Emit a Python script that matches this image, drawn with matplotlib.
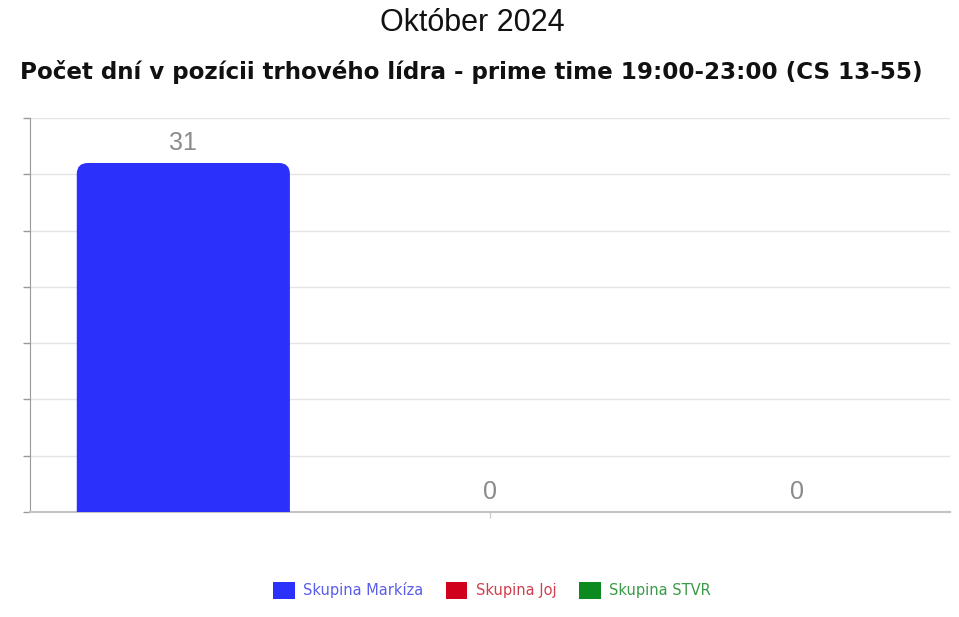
import numpy as np
import matplotlib.pyplot as plt
from matplotlib.patches import FancyBboxPatch, Patch

title = "Október 2024"
subtitle = "Počet dní v pozícii trhového lídra - prime time 19:00-23:00 (CS 13-55)"
series = ["Skupina Markíza", "Skupina Joj", "Skupina STVR"]
values = [31, 0, 0]
colors = ["#2b30fb", "#d0021b", "#0a8a1f"]
text_colors = ["#5a5ee8", "#d0404f", "#3a9a48"]
y_ticks = [0, 5, 10, 15, 20, 25, 30, 35]

sans = ["Liberation Sans", "DejaVu Sans"]

fig = plt.figure(figsize=(9.59, 6.17), dpi=100)
ax = fig.add_axes([0.0313, 0.1702, 0.9593, 0.6386])

xs = np.arange(len(series)) - 1
width = 0.695
ax.set_xlim(-1.5, 1.5)
ax.set_ylim(0, 35)

# pixel scales for round corners
ppx = ax.bbox.width / 3.0
ppy = ax.bbox.height / 35.0
r_px = 11
for x, v, c in zip(xs, values, colors):
    if v > 0:
        p = FancyBboxPatch((x - width / 2, -2), width, v + 2,
                           boxstyle="round,pad=0,rounding_size=%f" % (r_px / ppx),
                           mutation_aspect=ppx / ppy,
                           fc=c, ec="none", zorder=3, clip_on=True)
        ax.add_patch(p)
    ax.text(x, v + 0.7, str(v), ha="center", va="bottom", color="#8a8a8a",
            fontsize=18, family=sans, zorder=4)

ax.set_yticks(y_ticks)
ax.set_yticklabels([])
ax.set_xticks([0])
ax.set_xticklabels([])
ax.grid(axis="y", color="#e4e4e4", lw=1, zorder=0)
ax.tick_params(axis="y", length=5, color="#999999", width=1)
ax.tick_params(axis="x", length=4, color="#cccccc", width=1)
for s in ["top", "right"]:
    ax.spines[s].set_visible(False)
ax.spines["left"].set_color("#999999")
ax.spines["bottom"].set_color("#c4c4c4")
ax.spines["bottom"].set_linewidth(1.5)

fig.text(0.492, 0.962, title, ha="center", va="center", fontsize=22,
         family=sans, color="#111111")
fig.text(0.491, 0.884, subtitle, ha="center", va="center", fontsize=16.6,
         fontweight="bold", family="DejaVu Sans", color="#111111")

handles = [Patch(fc=c, ec="none", label=s) for s, c in zip(series, colors)]
leg = fig.legend(handles=handles, loc="center", bbox_to_anchor=(0.513, 0.043),
                 ncol=3, frameon=False, handlelength=1.5,
                 handleheight=1.4, handletextpad=0.6, columnspacing=1.5,
                 prop={"family": "DejaVu Sans", "size": 10.5})
for t, c in zip(leg.get_texts(), text_colors):
    t.set_color(c)

fig.savefig("out.png", dpi=100)
